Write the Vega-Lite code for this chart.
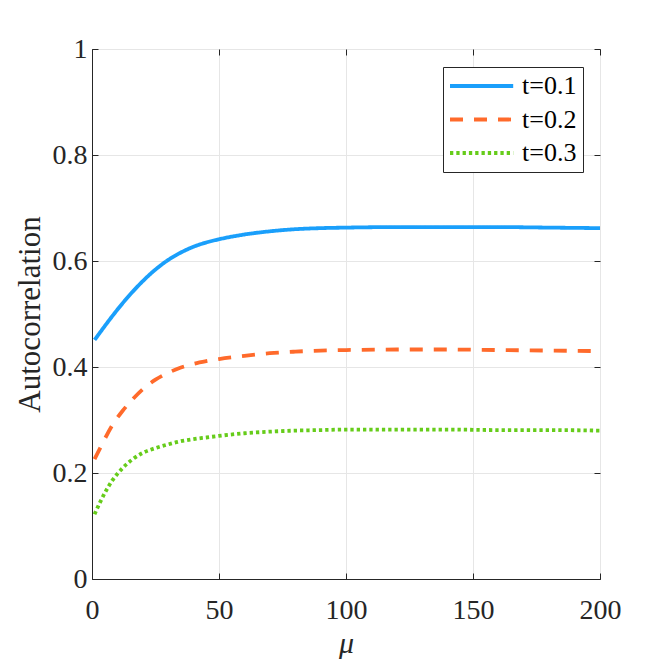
{
  "$schema": "https://vega.github.io/schema/vega-lite/v6.json",
  "width": 508,
  "height": 530,
  "autosize": "none",
  "padding": {"left": 92, "top": 49, "right": 64, "bottom": 85},
  "background": "white",
  "config": {
    "font": "Liberation Serif, Times New Roman, serif",
    "view": {"stroke": "#262626", "strokeWidth": 1},
    "axis": {
      "domainColor": "#262626",
      "tickColor": "#262626",
      "labelColor": "#262626",
      "titleColor": "#262626",
      "labelFont": "Liberation Serif, Times New Roman, serif",
      "titleFont": "Liberation Serif, Times New Roman, serif",
      "labelFontSize": 28,
      "titleFontSize": 31,
      "titleFontWeight": "normal",
      "gridColor": "#e6e6e6",
      "tickSize": -6
    },
    "legend": {
      "labelFont": "Liberation Serif, Times New Roman, serif",
      "labelFontSize": 26,
      "labelColor": "#000000"
    }
  },
  "data": {
    "values": [
      {"mu": 1, "t": "t=0.1", "r": 0.451}, {"mu": 3, "t": "t=0.1", "r": 0.464},
      {"mu": 5, "t": "t=0.1", "r": 0.477}, {"mu": 8, "t": "t=0.1", "r": 0.496},
      {"mu": 12, "t": "t=0.1", "r": 0.520}, {"mu": 16, "t": "t=0.1", "r": 0.542},
      {"mu": 20, "t": "t=0.1", "r": 0.562}, {"mu": 25, "t": "t=0.1", "r": 0.584},
      {"mu": 30, "t": "t=0.1", "r": 0.602}, {"mu": 35, "t": "t=0.1", "r": 0.616},
      {"mu": 40, "t": "t=0.1", "r": 0.627}, {"mu": 45, "t": "t=0.1", "r": 0.635},
      {"mu": 50, "t": "t=0.1", "r": 0.641}, {"mu": 60, "t": "t=0.1", "r": 0.650},
      {"mu": 70, "t": "t=0.1", "r": 0.656}, {"mu": 80, "t": "t=0.1", "r": 0.660},
      {"mu": 90, "t": "t=0.1", "r": 0.662}, {"mu": 100, "t": "t=0.1", "r": 0.663},
      {"mu": 120, "t": "t=0.1", "r": 0.664}, {"mu": 140, "t": "t=0.1", "r": 0.664},
      {"mu": 160, "t": "t=0.1", "r": 0.664}, {"mu": 180, "t": "t=0.1", "r": 0.663},
      {"mu": 200, "t": "t=0.1", "r": 0.662},
      {"mu": 1, "t": "t=0.2", "r": 0.226}, {"mu": 3, "t": "t=0.2", "r": 0.245},
      {"mu": 5, "t": "t=0.2", "r": 0.264}, {"mu": 8, "t": "t=0.2", "r": 0.290},
      {"mu": 12, "t": "t=0.2", "r": 0.317}, {"mu": 16, "t": "t=0.2", "r": 0.339},
      {"mu": 20, "t": "t=0.2", "r": 0.358}, {"mu": 25, "t": "t=0.2", "r": 0.376},
      {"mu": 30, "t": "t=0.2", "r": 0.389}, {"mu": 35, "t": "t=0.2", "r": 0.399},
      {"mu": 40, "t": "t=0.2", "r": 0.406}, {"mu": 45, "t": "t=0.2", "r": 0.411},
      {"mu": 50, "t": "t=0.2", "r": 0.415}, {"mu": 60, "t": "t=0.2", "r": 0.421},
      {"mu": 70, "t": "t=0.2", "r": 0.426}, {"mu": 80, "t": "t=0.2", "r": 0.429},
      {"mu": 90, "t": "t=0.2", "r": 0.431}, {"mu": 100, "t": "t=0.2", "r": 0.432},
      {"mu": 120, "t": "t=0.2", "r": 0.433}, {"mu": 140, "t": "t=0.2", "r": 0.433},
      {"mu": 160, "t": "t=0.2", "r": 0.432}, {"mu": 180, "t": "t=0.2", "r": 0.431},
      {"mu": 200, "t": "t=0.2", "r": 0.430},
      {"mu": 1, "t": "t=0.3", "r": 0.122}, {"mu": 3, "t": "t=0.3", "r": 0.143},
      {"mu": 5, "t": "t=0.3", "r": 0.162}, {"mu": 8, "t": "t=0.3", "r": 0.186},
      {"mu": 12, "t": "t=0.3", "r": 0.209}, {"mu": 16, "t": "t=0.3", "r": 0.226},
      {"mu": 20, "t": "t=0.3", "r": 0.238}, {"mu": 25, "t": "t=0.3", "r": 0.247},
      {"mu": 30, "t": "t=0.3", "r": 0.254}, {"mu": 35, "t": "t=0.3", "r": 0.260},
      {"mu": 40, "t": "t=0.3", "r": 0.264}, {"mu": 45, "t": "t=0.3", "r": 0.267},
      {"mu": 50, "t": "t=0.3", "r": 0.270}, {"mu": 60, "t": "t=0.3", "r": 0.275},
      {"mu": 70, "t": "t=0.3", "r": 0.278}, {"mu": 80, "t": "t=0.3", "r": 0.280},
      {"mu": 90, "t": "t=0.3", "r": 0.281}, {"mu": 100, "t": "t=0.3", "r": 0.282},
      {"mu": 120, "t": "t=0.3", "r": 0.282}, {"mu": 140, "t": "t=0.3", "r": 0.282},
      {"mu": 160, "t": "t=0.3", "r": 0.281}, {"mu": 180, "t": "t=0.3", "r": 0.281},
      {"mu": 200, "t": "t=0.3", "r": 0.280}
    ]
  },
  "layer": [
    {
      "mark": {"type": "line", "strokeWidth": 3.8, "interpolate": "monotone", "strokeCap": "butt"},
      "encoding": {
        "x": {
          "field": "mu",
          "type": "quantitative",
          "scale": {"domain": [0, 200], "nice": false},
          "axis": {
            "title": "μ",
            "titleFont": "Liberation Serif, Times New Roman, serif",
            "titleFontStyle": "italic",
            "titleFontSize": 30,
            "labelFont": "Liberation Serif, Times New Roman, serif",
            "labelFontSize": 28,
            "values": [0, 50, 100, 150, 200],
            "labelPadding": 23,
            "titlePadding": 4,
            "labelFlush": false
          }
        },
        "y": {
          "field": "r",
          "type": "quantitative",
          "scale": {"domain": [0, 1], "nice": false},
          "axis": {
            "title": "Autocorrelation",
            "titleFont": "Liberation Serif, Times New Roman, serif",
            "labelFont": "Liberation Serif, Times New Roman, serif",
            "labelFontSize": 28,
            "values": [0, 0.2, 0.4, 0.6, 0.8, 1],
            "labelExpr": "datum.value == 0 || datum.value == 1 ? format(datum.value, 'd') : format(datum.value, '.1f')",
            "labelPadding": 11,
            "titlePadding": 6,
            "labelFlush": false
          }
        },
        "color": {
          "field": "t",
          "type": "nominal",
          "scale": {"domain": ["t=0.1", "t=0.2", "t=0.3"], "range": ["#1A9FFB", "#FF6A2B", "#66CC1A"]},
          "legend": {
            "title": null,
            "orient": "none",
            "legendX": 351,
            "legendY": 18,
            "symbolType": "M-1.5,0H6.4",
            "symbolSize": 256,
            "symbolStrokeWidth": 3.8,
            "labelFont": "Liberation Serif, Times New Roman, serif",
            "labelFontSize": 26,
            "labelOffset": 47,
            "rowPadding": 7.5,
            "padding": 6,
            "fillColor": "white",
            "strokeColor": "#262626"
          }
        },
        "strokeDash": {
          "field": "t",
          "type": "nominal",
          "scale": {"domain": ["t=0.1", "t=0.2", "t=0.3"], "range": [[1, 0], [13, 11], [3.3, 3]]},
          "legend": null
        }
      }
    },
    {
      "mark": {"type": "line", "opacity": 0},
      "encoding": {
        "x": {
          "field": "mu",
          "type": "quantitative",
          "axis": {"orient": "top", "labels": false, "grid": false, "domain": false, "title": null, "values": [0, 50, 100, 150, 200]}
        },
        "y": {
          "field": "r",
          "type": "quantitative",
          "axis": {"orient": "right", "labels": false, "grid": false, "domain": false, "title": null, "values": [0, 0.2, 0.4, 0.6, 0.8, 1]}
        },
        "detail": {"field": "t"}
      }
    }
  ],
  "resolve": {"axis": {"x": "independent", "y": "independent"}}
}
